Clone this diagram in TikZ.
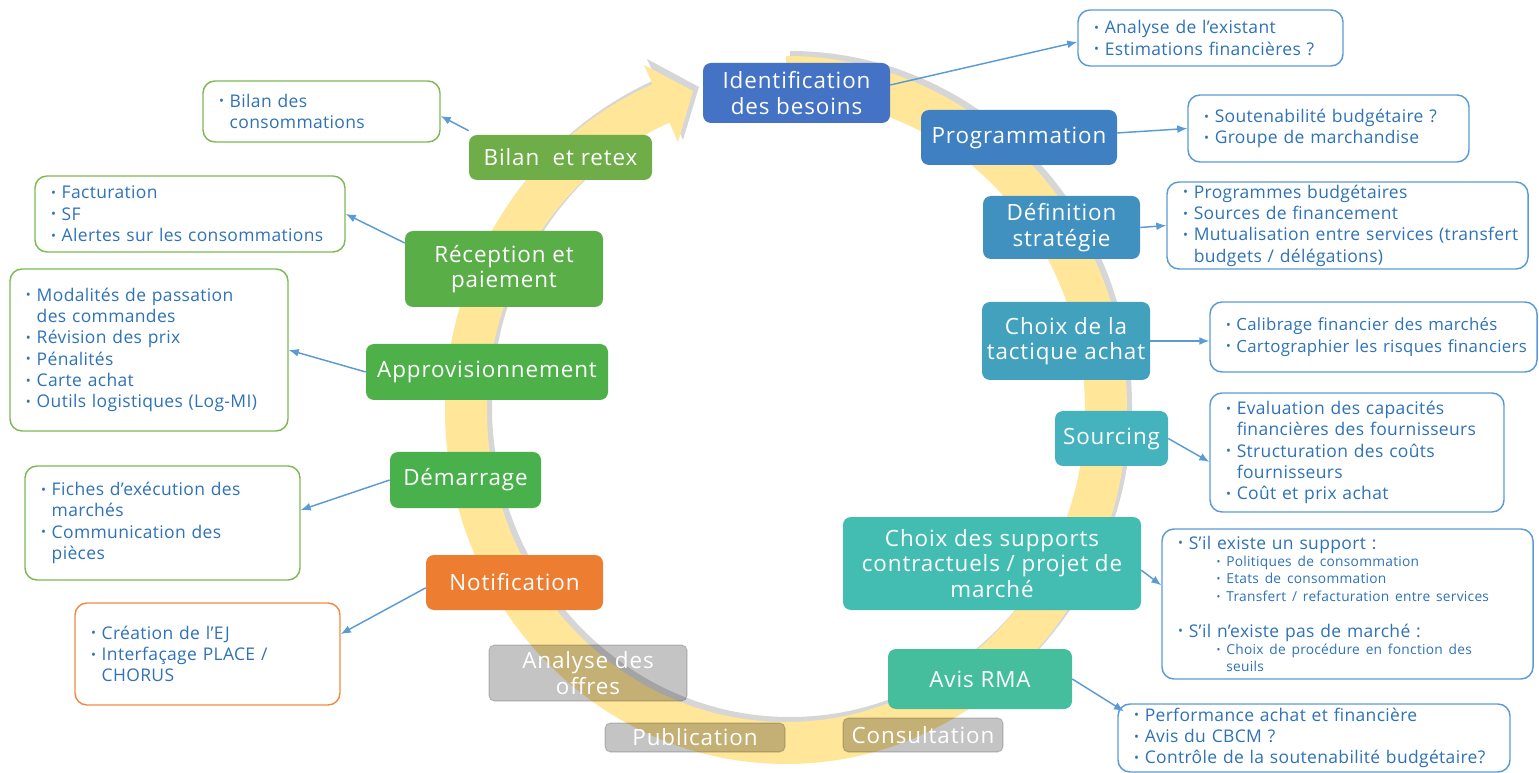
\documentclass[tikz,border=0pt]{standalone}
\usepackage{fontspec}
\setmainfont[LetterSpace=4]{Open Sans}
\newfontfamily\infofam[LetterSpace=2]{Open Sans}
\usetikzlibrary{arrows.meta,calc}
\definecolor{ringy}{HTML}{FFE699}
\definecolor{cA}{HTML}{4472C4}
\definecolor{cB}{HTML}{3F80C3}
\definecolor{cC}{HTML}{4191C0}
\definecolor{cD}{HTML}{42A1BD}
\definecolor{cE}{HTML}{45B3BE}
\definecolor{cF}{HTML}{43BDB2}
\definecolor{cG}{HTML}{44BE9D}
\definecolor{cNot}{HTML}{ED7D31}
\definecolor{cDem}{HTML}{48B14C}
\definecolor{cApp}{HTML}{4DB049}
\definecolor{cRec}{HTML}{5AAE48}
\definecolor{cBil}{HTML}{6EAD47}
\definecolor{grayb}{HTML}{C4C4C4}
\definecolor{graybd}{HTML}{D6D6D6}
\definecolor{bdblue}{HTML}{5B9BD5}
\definecolor{bdgreen}{HTML}{7DB955}
\definecolor{bdorange}{HTML}{F08A45}
\definecolor{infotxt}{HTML}{2E72B8}
\definecolor{arrowblue}{HTML}{5B9BD5}
\newcommand\stepfont{\fontsize{16.8}{19}\selectfont}
\newcommand\infofont{\infofam\fontsize{13.1}{16}\selectfont}
\newcommand\subfont{\fontsize{10.3}{13}\selectfont}
\newcommand\mybul{\raisebox{0.15ex}{\scalebox{0.75}{\textbullet}}\ }
\newcommand\myind{\phantom{\raisebox{0.15ex}{\scalebox{0.75}{\textbullet}}\ }}
\newcommand\bl[1]{\mbox{\mybul #1}}
\newcommand\il[1]{\mbox{\myind #1}}
\tikzset{
  stepbox/.style={rounded corners=6pt, text=white, align=center, font=\stepfont, inner sep=0pt},
  graybox/.style={rounded corners=4pt, fill=grayb, draw=graybd, line width=0.8pt, inner sep=0pt},
  graytxt/.style={text=white, align=center, font=\stepfont, inner sep=0pt},
  info/.style={draw=#1, line width=1.1pt, rounded corners=9pt, fill=white, align=left,
    text=infotxt, font=\infofont, inner xsep=12pt, inner ysep=0pt},
  conn/.style={draw=arrowblue, line width=1.1pt, -{Latex[length=7.5pt,width=6pt]}},
}
\begin{document}
\begin{tikzpicture}[x=0.75pt, y=-0.75pt]
\useasboundingbox (0,0) rectangle (1539,773);
% ---- ring shadow
\begin{scope}[xshift=3pt, yshift=3pt, opacity=0.32]
  \draw[line width=33pt, gray] (786,77) arc[start angle=-90, end angle=248, x radius=320, y radius=333];
  \fill[gray] (643,63) -- (695,91) -- (679,144) -- cycle;
\end{scope}
% ---- ring
\draw[line width=31.5pt, ringy] (786,77) arc[start angle=-90, end angle=248, x radius=320, y radius=333];
\fill[ringy] (644,65) -- (693,91) -- (678,142) -- cycle;

% ---- step boxes
\node[stepbox, fill=cA, minimum width=140.25pt, minimum height=45pt] (s1) at (796.5,93) {Identification\\des besoins};
\node[stepbox, fill=cB, minimum width=147pt, minimum height=41.25pt] (s2) at (1019,137.5) {Programmation};
\node[stepbox, fill=cC, minimum width=117.75pt, minimum height=47.25pt] (s3) at (1061.5,227.5) {Définition\\stratégie};
\node[stepbox, fill=cD, minimum width=126pt, minimum height=58.5pt] (s4) at (1066,341) {Choix de la\\tactique achat};
\node[stepbox, fill=cE, minimum width=84.75pt, minimum height=41.25pt] (s5) at (1111.5,438.5) {Sourcing};
\node[stepbox, fill=cF, minimum width=223.5pt, minimum height=69.75pt] (s6) at (992,563.5) {Choix des supports\\contractuels / projet de\\marché};
\node[stepbox, fill=cG, minimum width=138pt, minimum height=45pt] (s7) at (980,679) {Avis RMA};
\node[stepbox, fill=cNot, minimum width=132.75pt, minimum height=41.25pt] (s11) at (514.5,582.5) {Notification};
\node[stepbox, fill=cDem, minimum width=113.25pt, minimum height=42pt] (s12) at (465.5,480) {Démarrage};
\node[stepbox, fill=cApp, minimum width=181.5pt, minimum height=42pt] (s13) at (487,372) {Approvisionnement};
\node[stepbox, fill=cRec, minimum width=148.5pt, minimum height=57pt] (s14) at (504,269) {Réception et\\paiement};
\node[stepbox, fill=cBil, minimum width=137.25pt, minimum height=33.75pt] (s15) at (560.5,157.5) {Bilan\ \ et retex};

% ---- grey (translucent) boxes
\begin{scope}[blend mode=multiply]
  \node[graybox, minimum width=120pt, minimum height=25.5pt] (s8) at (923,735) {};
  \node[graybox, minimum width=135pt, minimum height=21.75pt] (s9) at (695,737.5) {};
  \node[graybox, minimum width=148.5pt, minimum height=42pt] (s10) at (588,673) {};
\end{scope}
\node[graytxt] (s8t) at (s8) {Consultation};
\node[graytxt] (s9t) at (s9) {Publication};
\node[graytxt] (s10t) at (s10) {Analyse des\\offres};

% ---- info boxes
\node[info=bdblue, text width=174.75pt, minimum height=42pt] (A) at (1210.5,38)
  {\bl{Analyse de l’existant}\\\bl{Estimations financières ?}};
\node[info=bdblue, text width=186.75pt, minimum height=50.25pt] (B) at (1328.5,128.5)
  {\bl{Soutenabilité budgétaire ?}\\\bl{Groupe de marchandise}};
\node[info=bdblue, text width=246.75pt, minimum height=65.25pt] (C) at (1347.5,225.5)
  {\bl{Programmes budgétaires}\\\bl{Sources de financement}\\\bl{Mutualisation entre services (transfert}\\\il{budgets / délégations)}};
\node[info=bdblue, text width=221.25pt, minimum height=52.5pt, font=\infofam\fontsize{12.6}{16}\selectfont] (D) at (1373.5,337)
  {\bl{Calibrage financier des marchés}\\\bl{Cartographier les risques financiers}};
\node[info=bdblue, text width=196.5pt, minimum height=89.25pt] (E) at (1357,452.5)
  {\bl{Evaluation des capacités}\\\il{financières des fournisseurs}\\\bl{Structuration des coûts}\\\il{fournisseurs}\\\bl{Coût et prix achat}};
\node[info=bdblue, text width=254.25pt, minimum height=112.5pt] (F) at (1347.5,604)
  {\bl{S’il existe un support :}\par
   {\subfont\hspace*{29pt}\bl{Politiques de consommation}\par
   \hspace*{29pt}\bl{Etats de consommation}\par
   \hspace*{29pt}\bl{Transfert / refacturation entre services}\par}
   \vspace{11pt}
   \bl{S’il n’existe pas de marché :}\par
   {\subfont\hspace*{29pt}\bl{Choix de procédure en fonction des}\par
   \hspace*{29pt}\il{seuils}\par}};
\node[info=bdblue, text width=270pt, minimum height=51pt] (G) at (1314,738)
  {\bl{Performance achat et financière}\\\bl{Avis du CBCM ?}\\\bl{Contrôle de la soutenabilité budgétaire?}};
\node[info=bdgreen, text width=153.75pt, minimum height=45.75pt] (H) at (321.5,111.5)
  {\bl{Bilan des}\\\il{consommations}};
\node[info=bdgreen, text width=208.5pt, minimum height=57pt] (I) at (190,214)
  {\bl{Facturation}\\\bl{SF}\\\bl{Alertes sur les consommations}};
\node[info=bdgreen, text width=184.5pt, minimum height=121.5pt] (J) at (149,350)
  {\bl{Modalités de passation}\\\il{des commandes}\\\bl{Révision des prix}\\\bl{Pénalités}\\\bl{Carte achat}\\\bl{Outils logistiques (Log-MI)}};
\node[info=bdgreen, text width=182.25pt, minimum height=85.5pt] (K) at (162.5,523)
  {\bl{Fiches d’exécution des}\\\il{marchés}\\\bl{Communication des}\\\il{pièces}};
\node[info=bdorange, text width=174.75pt, minimum height=76.5pt] (L) at (207.5,654)
  {\bl{Création de l’EJ}\\\bl{Interfaçage PLACE /}\\\il{CHORUS}};

% ---- connectors
\draw[conn] ([yshift=6pt]s1.east) -- ([yshift=-3pt]A.west);
\draw[conn] ([yshift=3.4pt]s2.east) -- (B.west);
\draw[conn] (s3.east) -- (C.west);
\draw[conn] (s4.east) -- ([yshift=-3pt]D.west);
\draw[conn] (s5.east) -- ([yshift=-7pt]E.west);
\draw[conn] ([yshift=-5pt]s6.east) -- ([yshift=14pt]F.west);
\draw[conn] (s7.east) -- ([xshift=5pt,yshift=-6pt]G.north west);
\draw[conn] ([yshift=3pt]s15.north west) -- ([yshift=-3.4pt]H.east);
\draw[conn] ([yshift=19.5pt]s14.west) -- (I.east);
\draw[conn] (s13.west) -- (J.east);
\draw[conn] (s12.west) -- ([yshift=9.75pt]K.east);
\draw[conn] ([yshift=-4pt]s11.west) -- ([yshift=15pt]L.east);
\end{tikzpicture}
\end{document}
